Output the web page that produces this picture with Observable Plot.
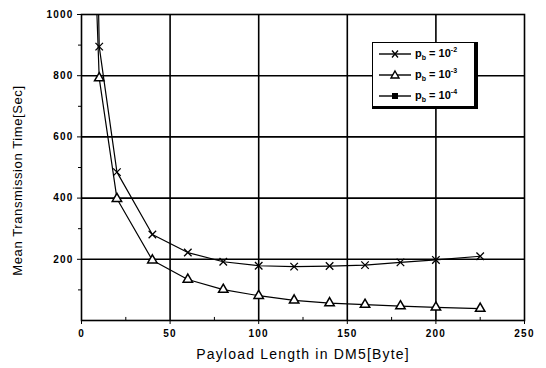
<!DOCTYPE html>
<html><head><meta charset="utf-8">
<script src="https://cdn.jsdelivr.net/npm/d3@7"></script>
<script src="https://cdn.jsdelivr.net/npm/@observablehq/plot@0.6"></script>
<style>
body{margin:0;background:#fff;font-family:"Liberation Sans",Arial,sans-serif;}
#wrap{position:relative;width:546px;height:368px;}
#legend{position:absolute;left:372px;top:42px;width:101px;height:63px;background:#fff;border:1.5px solid #000;border-right:4px solid #000;border-bottom:3px solid #000;box-sizing:content-box;}
#legend .row{display:flex;align-items:center;height:21px;font-size:11px;font-weight:bold;}
#legend svg{margin-left:6px;margin-right:4px;}
#legend sub{font-size:7px;vertical-align:-3px;}
#legend sup{font-size:7px;vertical-align:5px;}
g[aria-label="x-axis tick label"] text, g[aria-label="y-axis tick label"] text{letter-spacing:1.2px;}
</style></head>
<body><div id="wrap"></div>
<script>
const payload = [5, 10, 20, 40, 60, 80, 100, 120, 140, 160, 180, 200, 225];
const pe2 = [2500, 895, 485, 281, 222, 192, 179, 176, 178, 181, 190, 198, 210];
const pe3 = [1600, 792, 398, 197, 134, 101, 81, 66, 57, 52, 47, 43, 39];
const xTicks = [0, 50, 100, 150, 200, 250];
const yTicks = [200, 400, 600, 800, 1000];
const xMinor = [25, 75, 125, 175, 225];
const yMinor = [100, 300, 500, 700, 900];
const seriesLabels = ["-2", "-3", "-4"];

const d2 = payload.map((x, i) => ({x, y: pe2[i]}));
const d3s = payload.map((x, i) => ({x, y: pe3[i]}));

const chart = Plot.plot({
  width: 546, height: 368,
  marginLeft: 81, marginRight: 22, marginTop: 14, marginBottom: 48,
  style: {fontFamily: '"Liberation Sans", Arial, sans-serif', background: "#fff"},
  x: {domain: [0, 250]},
  y: {domain: [0, 1000]},
  marks: [
    Plot.gridX([50, 100, 150, 200], {stroke: "#000", strokeOpacity: 1, strokeWidth: 1.6}),
    Plot.gridY([200, 400, 600, 800], {stroke: "#000", strokeOpacity: 1, strokeWidth: 1.6}),
    Plot.ruleX(xMinor, {y1: 0, y2: 10, stroke: "#000", strokeWidth: 1}),
    Plot.axisX({ticks: xTicks, tickSize: 4, tickPadding: 5, fontSize: 10, fontWeight: "bold", tickFormat: d3.format("d"), label: "Payload Length in DM5[Byte]", labelAnchor: "center", labelArrow: "none", labelOffset: 38}),
    Plot.axisY({ticks: yTicks, tickSize: 4, tickPadding: 4, fontSize: 10, fontWeight: "bold", tickFormat: d3.format("d"), label: null}),
    Plot.axisY({ticks: yMinor, tickSize: 3, tickFormat: () => "", label: null}),
    Plot.line(d2, {x: "x", y: "y", stroke: "#000", strokeWidth: 1.2, clip: true}),
    Plot.dot(d2.slice(1), {x: "x", y: "y", symbol: "times", r: 3.5, stroke: "#000", strokeWidth: 1.3}),
    Plot.line(d3s, {x: "x", y: "y", stroke: "#000", strokeWidth: 1.2, clip: true}),
    Plot.dot(d3s.slice(1), {x: "x", y: "y", symbol: "triangle", r: 3.5, stroke: "#000", fill: "#fff", strokeWidth: 1.5}),
    Plot.frame({stroke: "#000", strokeWidth: 1.6}),
    Plot.text(["Mean Transmission Time[Sec]"], {frameAnchor: "left", dx: -64, dy: 13, rotate: -90, textAnchor: "middle", fontSize: 13, text: d => d, fill: "#000"})
  ]
});
chart.querySelectorAll("text").forEach(t => {
  if (t.textContent.startsWith("Payload")) { t.style.fontSize = "14px"; t.style.letterSpacing = "1.2px"; t.style.fontWeight = "normal"; }
  if (t.textContent.startsWith("Mean")) { t.style.letterSpacing = "0.6px"; }
});
const wrap = document.getElementById("wrap");
wrap.appendChild(chart);

const legend = document.createElement("div");
legend.id = "legend";
const syms = ["times", "triangle", "square"];
legend.innerHTML = seriesLabels.map((s, i) => {
  let m = "";
  if (syms[i] === "times") m = '<path d="M13,-3.5L19,3.5M13,3.5L19,-3.5" stroke="#000" stroke-width="1.3"/>';
  else if (syms[i] === "triangle") m = '<path d="M16,-4L20,3L12,3Z" stroke="#000" stroke-width="1.4" fill="#fff"/>';
  else m = '<rect x="13" y="-3" width="6" height="6" fill="#000"/>';
  return `<div class="row"><svg width="32" height="12" viewBox="0 -6 32 12"><line x1="0" x2="32" y1="0" y2="0" stroke="#000" stroke-width="1.4"/>${m}</svg><span>p<sub>b</sub>&nbsp;=&nbsp;10<sup>${s}</sup></span></div>`;
}).join("");
wrap.appendChild(legend);
</script></body></html>
